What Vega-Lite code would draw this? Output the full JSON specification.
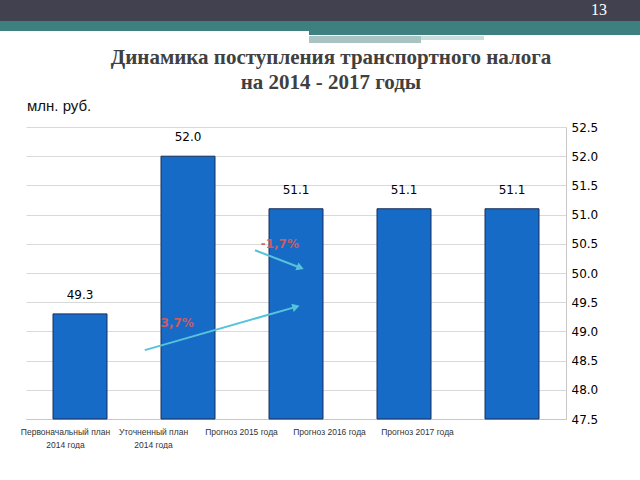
{
  "$schema": "https://vega.github.io/schema/vega-lite/v6.json",
  "padding": 0,
  "background": "white",
  "spacing": 0,
  "align": "each",
  "config": {"view": {"stroke": null}, "concat": {"spacing": 0}, "font": "DejaVu Sans"},
  "datasets": {
    "revenue": [
      {"cat": "Первоначальный план 2014 года", "value": 49.3},
      {"cat": "Уточненный план 2014 года", "value": 52.0},
      {"cat": "Прогноз 2015 года", "value": 51.1},
      {"cat": "Прогноз 2016 года", "value": 51.1},
      {"cat": "Прогноз 2017 года", "value": 51.1}
    ],
    "arrows": [
      {"arrow": "рост", "u0": 1.10, "v0": 48.68, "u1": 2.50, "v1": 49.42},
      {"arrow": "снижение", "u0": 2.12, "v0": 50.39, "u1": 2.54, "v1": 50.09}
    ],
    "changes": [
      {"label": "3,7%", "u": 1.40, "v": 49.14},
      {"label": "-1,7%", "u": 2.35, "v": 50.50}
    ],
    "empty": [{"k": 1}]
  },
  "vconcat": [
    {
      "width": 640, "height": 21,
      "view": {"fill": "#41414f", "stroke": null},
      "data": {"name": "empty"},
      "mark": {"type": "point", "opacity": 0},
      "title": {"text": "13", "orient": "top", "anchor": "end", "frame": "group", "offset": -18, "dx": -33, "color": "#ffffff", "font": "Liberation Serif", "fontSize": 16, "fontWeight": "normal"}
    },
    {
      "hconcat": [
        {"width": 309, "height": 10, "view": {"fill": "#3e7f80", "stroke": null}, "data": {"name": "empty"}, "mark": {"type": "point", "opacity": 0}},
        {"width": 331, "height": 14, "view": {"fill": "#3e7f80", "stroke": null}, "data": {"name": "empty"}, "mark": {"type": "point", "opacity": 0}}
      ],
      "spacing": 0, "align": "each"
    },
    {
      "hconcat": [
        {"width": 309, "height": 10, "data": {"name": "empty"}, "mark": {"type": "point", "opacity": 0}},
        {"width": 112, "height": 7, "view": {"fill": "#a9c3c3", "stroke": null}, "data": {"name": "empty"}, "mark": {"type": "point", "opacity": 0}},
        {"width": 63, "height": 4, "view": {"fill": "#c9dddd", "stroke": null}, "data": {"name": "empty"}, "mark": {"type": "point", "opacity": 0}}
      ],
      "spacing": 0, "align": "each"
    },
    {
      "width": 640, "height": 1,
      "data": {"name": "empty"},
      "mark": {"type": "point", "opacity": 0},
      "title": {"text": ["Динамика поступления транспортного налога", "на 2014 - 2017 годы"], "anchor": "middle", "frame": "group", "dx": 11, "offset": 0, "color": "#404040", "font": "Liberation Serif", "fontSize": 21, "fontWeight": "bold", "lineHeight": 25}
    },
    {
      "hconcat": [
        {"width": 20, "height": 1, "data": {"name": "empty"}, "mark": {"type": "point", "opacity": 0}},
        {
          "width": 540, "height": 292,
          "title": {"text": "млн. руб.", "anchor": "start", "frame": "group", "offset": 7, "dx": 1, "color": "#111111", "font": "Liberation Sans", "fontSize": 15, "fontWeight": "normal"},
          "resolve": {"scale": {"x": "independent"}},
          "layer": [
            {
              "data": {"name": "revenue"},
              "encoding": {
                "x": {"field": "cat", "type": "nominal", "sort": null,
                  "scale": {"paddingInner": 0.5, "paddingOuter": 0.25},
                  "axis": {"orient": "bottom", "title": null, "ticks": false, "domain": true, "domainColor": "#c8c8c8", "labels": false}},
                "y": {"field": "value", "type": "quantitative",
                  "scale": {"domain": [47.5, 52.5], "zero": false, "nice": false},
                  "axis": {"orient": "right", "title": null, "ticks": false, "domain": true, "domainColor": "#c8c8c8", "grid": true, "gridColor": "#d9d9d9",
                    "values": [47.5, 48, 48.5, 49, 49.5, 50, 50.5, 51, 51.5, 52, 52.5], "format": ".1f", "labelPadding": 5,
                    "labelFont": "DejaVu Sans", "labelFontSize": 12, "labelColor": "#000000"}}
              },
              "layer": [
                {"mark": {"type": "bar", "fill": "#156bc6", "stroke": "#1b2f5a", "strokeWidth": 1},
                  "encoding": {"y2": {"datum": 47.5}}},
                {"mark": {"type": "text", "dy": -19, "baseline": "middle", "font": "DejaVu Sans", "fontSize": 12, "color": "#000000"},
                  "encoding": {"text": {"field": "value", "format": ".1f"}}}
              ]
            },
            {
              "data": {"name": "revenue"},
              "mark": {"type": "point", "opacity": 0},
              "encoding": {
                "x": {"field": "cat", "type": "nominal", "sort": null,
                  "scale": {"range": [-5, 435], "paddingInner": 0, "paddingOuter": 0},
                  "axis": {"orient": "bottom", "title": null, "ticks": false, "domain": false, "labelAngle": 0, "labelPadding": 8,
                    "labelFont": "Liberation Sans Narrow, Liberation Sans", "labelFontSize": 8.5, "labelColor": "#333333", "labelLineHeight": 13,
                    "labelExpr": "indexof(datum.label, 'план 2014') >= 0 ? [replace(datum.label, ' 2014 года', ''), '2014 года'] : datum.label"}}
              }
            },
            {
              "layer": [
                {
                  "data": {"name": "arrows"},
                  "mark": {"type": "rule", "color": "#57c3da", "strokeWidth": 2},
                  "encoding": {
                    "x": {"field": "u0", "type": "quantitative", "scale": {"domain": [0, 5], "nice": false, "zero": false}, "axis": null},
                    "x2": {"field": "u1"},
                    "y": {"field": "v0", "type": "quantitative", "scale": {"domain": [47.5, 52.5], "zero": false, "nice": false},
                      "axis": {"orient": "right", "title": null, "ticks": false, "domain": true, "domainColor": "#c8c8c8", "grid": true, "gridColor": "#d9d9d9",
                        "values": [47.5, 48, 48.5, 49, 49.5, 50, 50.5, 51, 51.5, 52, 52.5], "format": ".1f", "labelPadding": 5,
                        "labelFont": "DejaVu Sans", "labelFontSize": 12, "labelColor": "#000000"}},
                    "y2": {"field": "v1"}
                  }
                },
                {
                  "data": {"name": "arrows"},
                  "transform": [{"filter": "datum.arrow == 'рост'"}],
                  "mark": {"type": "point", "shape": "triangle-right", "filled": true, "color": "#57c3da", "size": 70, "angle": 344, "opacity": 1},
                  "encoding": {
                    "x": {"field": "u1", "type": "quantitative", "scale": {"domain": [0, 5], "nice": false, "zero": false}, "axis": null},
                    "y": {"field": "v1", "type": "quantitative", "scale": {"domain": [47.5, 52.5], "zero": false, "nice": false},
                      "axis": {"orient": "right", "title": null, "ticks": false, "domain": true, "domainColor": "#c8c8c8", "grid": true, "gridColor": "#d9d9d9",
                        "values": [47.5, 48, 48.5, 49, 49.5, 50, 50.5, 51, 51.5, 52, 52.5], "format": ".1f", "labelPadding": 5,
                        "labelFont": "DejaVu Sans", "labelFontSize": 12, "labelColor": "#000000"}}
                  }
                },
                {
                  "data": {"name": "arrows"},
                  "transform": [{"filter": "datum.arrow == 'снижение'"}],
                  "mark": {"type": "point", "shape": "triangle-right", "filled": true, "color": "#57c3da", "size": 70, "angle": 22, "opacity": 1},
                  "encoding": {
                    "x": {"field": "u1", "type": "quantitative", "scale": {"domain": [0, 5], "nice": false, "zero": false}, "axis": null},
                    "y": {"field": "v1", "type": "quantitative", "scale": {"domain": [47.5, 52.5], "zero": false, "nice": false},
                      "axis": {"orient": "right", "title": null, "ticks": false, "domain": true, "domainColor": "#c8c8c8", "grid": true, "gridColor": "#d9d9d9",
                        "values": [47.5, 48, 48.5, 49, 49.5, 50, 50.5, 51, 51.5, 52, 52.5], "format": ".1f", "labelPadding": 5,
                        "labelFont": "DejaVu Sans", "labelFontSize": 12, "labelColor": "#000000"}}
                  }
                },
                {
                  "data": {"name": "changes"},
                  "mark": {"type": "text", "baseline": "middle", "font": "DejaVu Sans", "fontSize": 12, "fontWeight": "bold", "color": "#e05a5a", "opacity": 0.9},
                  "encoding": {
                    "x": {"field": "u", "type": "quantitative", "scale": {"domain": [0, 5], "nice": false, "zero": false}, "axis": null},
                    "y": {"field": "v", "type": "quantitative", "scale": {"domain": [47.5, 52.5], "zero": false, "nice": false},
                      "axis": {"orient": "right", "title": null, "ticks": false, "domain": true, "domainColor": "#c8c8c8", "grid": true, "gridColor": "#d9d9d9",
                        "values": [47.5, 48, 48.5, 49, 49.5, 50, 50.5, 51, 51.5, 52, 52.5], "format": ".1f", "labelPadding": 5,
                        "labelFont": "DejaVu Sans", "labelFontSize": 12, "labelColor": "#000000"}},
                    "text": {"field": "label"}
                  }
                }
              ]
            }
          ]
        }
      ],
      "spacing": 0, "align": "each"
    }
  ]
}
